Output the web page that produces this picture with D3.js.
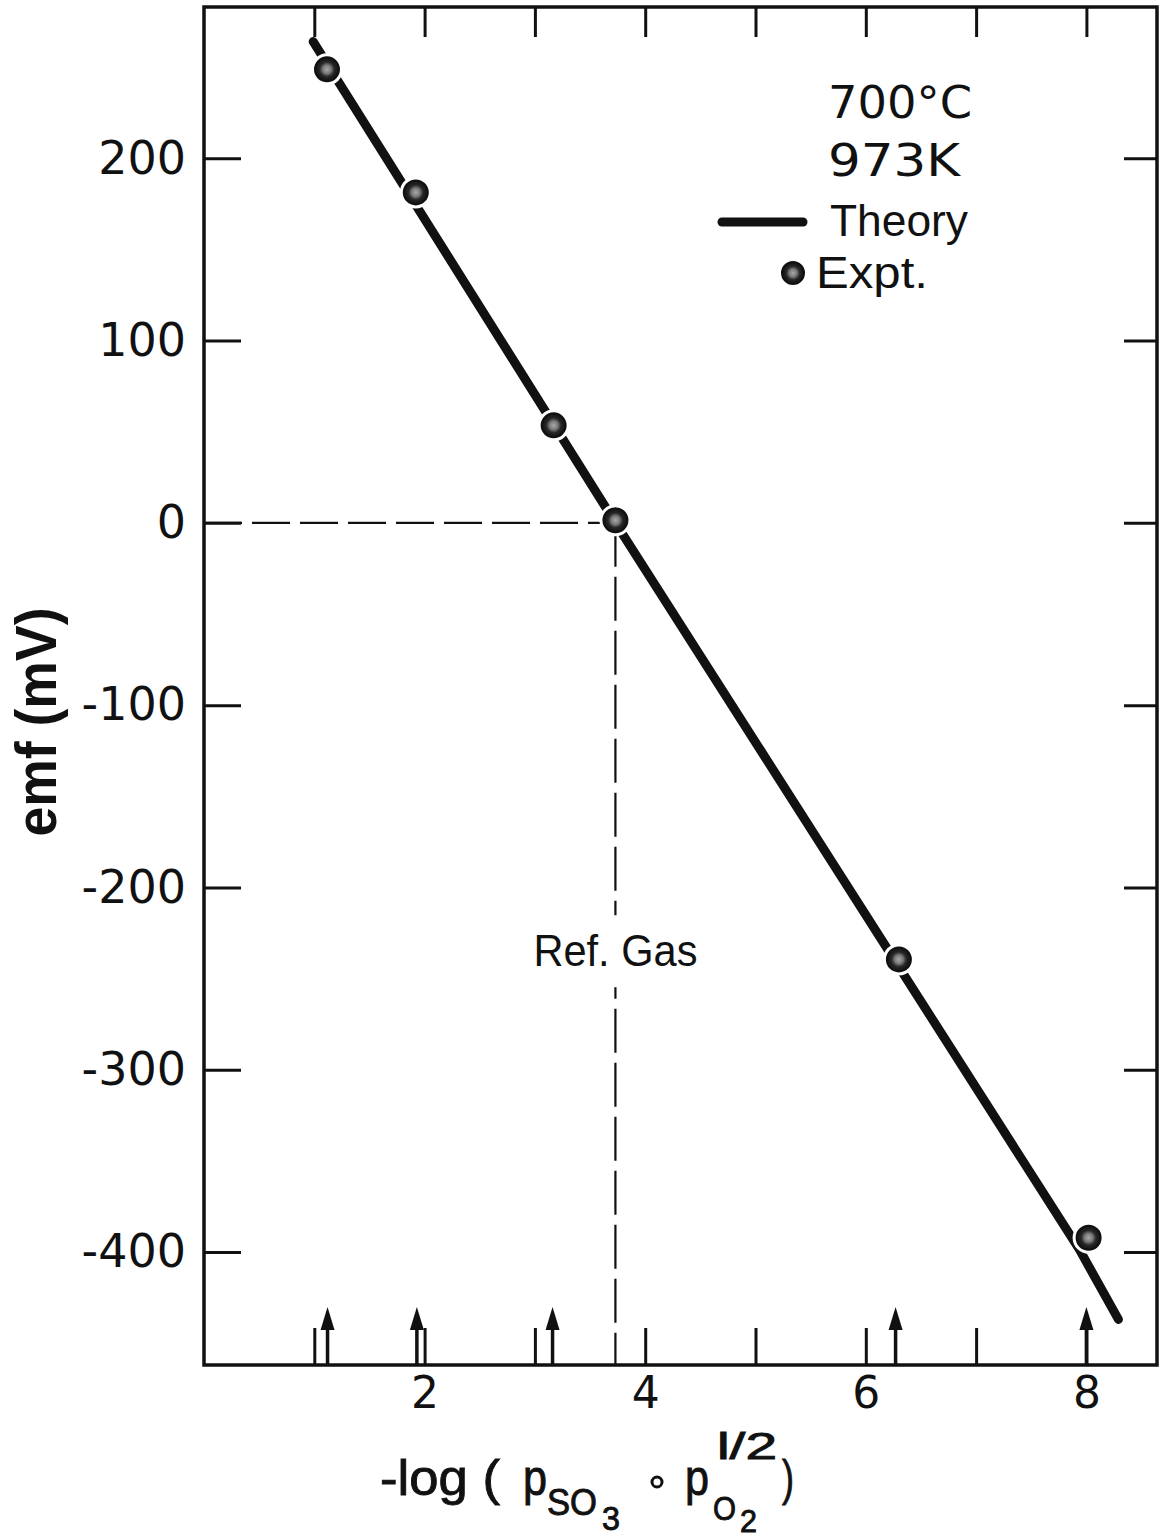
<!DOCTYPE html>
<html>
<head>
<meta charset="utf-8">
<script src="https://cdn.jsdelivr.net/npm/d3@7"></script>
<style>
  body { margin: 0; background: #fff; }
  text { fill: #111; }
</style>
</head>
<body>
<div id="chart"></div>
<script>
// experimental points (-log(pSO3 * pO2^1/2), emf mV)
const exptX = [1.115, 1.92, 3.17, 3.73, 6.3, 8.02];
const exptY = [248.8, 181.3, 53.5, 1.4, -239.5, -392.2];
// theory line
const theoryX = [0.99, 3.73, 7.94, 8.29];
const theoryY = [264, 0, -399, -437];
// arrows on the x axis marking the gas compositions
const arrowX = [1.12, 1.93, 3.16, 6.27, 8.0];
const refGasX = 3.73;
const yTicks = [200, 100, 0, -100, -200, -300, -400];
const xTicks = [1, 2, 3, 4, 5, 6, 7, 8];
const xLabels = [2, 4, 6, 8];

const W = 1163, H = 1540;
const numFont = "'DejaVu Sans', sans-serif";
const wordFont = "'Liberation Sans', Arial, sans-serif";

const svg = d3.select("#chart").append("svg")
  .attr("width", W).attr("height", H);

const x = d3.scaleLinear().domain([0, 8.64]).range([204, 1157]);
const y = d3.scaleLinear().domain([-462, 283]).range([1365, 7]);

const defs = svg.append("defs");
const grad = defs.append("radialGradient").attr("id", "dotfill");
grad.append("stop").attr("offset", "0%").attr("stop-color", "#a8a8a8");
grad.append("stop").attr("offset", "35%").attr("stop-color", "#7a7a7a");
grad.append("stop").attr("offset", "62%").attr("stop-color", "#262626");
grad.append("stop").attr("offset", "100%").attr("stop-color", "#111");

// axes with inward ticks
const styleAxis = (g) => {
  g.select(".domain").remove();
  g.selectAll("line").attr("stroke", "#111").attr("stroke-width", 3);
};
svg.append("g")
  .attr("transform", `translate(${x.range()[0]},0)`)
  .call(d3.axisLeft(y).tickValues(yTicks).tickSize(-37).tickPadding(18)
    .tickFormat((d) => String(d)))
  .call(styleAxis)
  .selectAll("text")
  .attr("font-family", numFont).attr("font-size", 46).attr("fill", "#111");

svg.append("g")
  .attr("transform", `translate(${x.range()[1]},0)`)
  .call(d3.axisRight(y).tickValues(yTicks).tickSize(-33).tickFormat(""))
  .call(styleAxis);

svg.append("g")
  .attr("transform", `translate(0,${y.range()[1]})`)
  .call(d3.axisTop(x).tickValues(xTicks).tickSize(-30).tickFormat(""))
  .call(styleAxis);

svg.append("g")
  .attr("transform", `translate(0,${y.range()[0]})`)
  .call(d3.axisBottom(x).tickValues(xTicks).tickSize(-37).tickPadding(12)
    .tickFormat((d) => (xLabels.includes(d) ? d : "")))
  .call(styleAxis)
  .selectAll("text")
  .attr("font-family", numFont).attr("font-size", 44).attr("fill", "#111");

// frame
svg.append("rect")
  .attr("x", x.range()[0]).attr("y", y.range()[1])
  .attr("width", x.range()[1] - x.range()[0])
  .attr("height", y.range()[0] - y.range()[1])
  .attr("fill", "none").attr("stroke", "#111").attr("stroke-width", 3.5);

// arrows
const arrows = svg.append("g");
arrowX.forEach((v) => {
  const ax = x(v), base = y.range()[0];
  arrows.append("line")
    .attr("x1", ax).attr("x2", ax).attr("y1", base).attr("y2", base - 40)
    .attr("stroke", "#111").attr("stroke-width", 3.5);
  arrows.append("path")
    .attr("d", `M${ax},${base - 58} L${ax - 7},${base - 35} L${ax + 7},${base - 35} Z`)
    .attr("fill", "#111");
});

// reference gas dashed lines
svg.append("line")
  .attr("x1", x(0)).attr("x2", x(refGasX))
  .attr("y1", y(0)).attr("y2", y(0))
  .attr("stroke", "#111").attr("stroke-width", 2.2)
  .attr("stroke-dasharray", "38,10");
svg.append("line")
  .attr("x1", x(refGasX)).attr("x2", x(refGasX))
  .attr("y1", y(0)).attr("y2", y.range()[0])
  .attr("stroke", "#111").attr("stroke-width", 2.2)
  .attr("stroke-dasharray", "44,10");

// label, with a white patch breaking the dashed line
const refLabelY = y(-235);
svg.append("rect")
  .attr("x", x(refGasX) - 85).attr("y", refLabelY - 36)
  .attr("width", 170).attr("height", 72).attr("fill", "#fff");
svg.append("text")
  .attr("x", x(refGasX)).attr("y", refLabelY + 15)
  .attr("text-anchor", "middle")
  .attr("font-family", wordFont).attr("font-size", 44)
  .attr("textLength", 164).attr("lengthAdjust", "spacingAndGlyphs")
  .text("Ref. Gas");

// theory line
const theory = theoryX.map((v, i) => [v, theoryY[i]]);
svg.append("path")
  .datum(theory)
  .attr("d", d3.line().x((d) => x(d[0])).y((d) => y(d[1])))
  .attr("fill", "none").attr("stroke", "#111")
  .attr("stroke-width", 9).attr("stroke-linecap", "round")
  .attr("stroke-linejoin", "round");

// experimental points, each with a white halo that breaks the line
const pts = exptX.map((v, i) => [v, exptY[i]]);
svg.append("g").selectAll("circle").data(pts).join("circle")
  .attr("cx", (d) => x(d[0])).attr("cy", (d) => y(d[1]))
  .attr("r", 16).attr("fill", "#fff");
svg.append("g").selectAll("circle").data(pts).join("circle")
  .attr("cx", (d) => x(d[0])).attr("cy", (d) => y(d[1]))
  .attr("r", 12).attr("fill", "url(#dotfill)")
  .attr("stroke", "#111").attr("stroke-width", 2);

// legend
const legend = svg.append("g");
legend.append("text").attr("x", 828).attr("y", 118)
  .attr("font-family", numFont).attr("font-size", 44)
  .attr("textLength", 144).attr("lengthAdjust", "spacingAndGlyphs")
  .text("700°C");
legend.append("text").attr("x", 828).attr("y", 176)
  .attr("font-family", numFont).attr("font-size", 44)
  .attr("textLength", 132).attr("lengthAdjust", "spacingAndGlyphs")
  .text("973K");
legend.append("line")
  .attr("x1", 722).attr("x2", 803).attr("y1", 222).attr("y2", 222)
  .attr("stroke", "#111").attr("stroke-width", 9).attr("stroke-linecap", "round");
legend.append("text").attr("x", 830).attr("y", 236)
  .attr("font-family", wordFont).attr("font-size", 45)
  .attr("textLength", 138).attr("lengthAdjust", "spacingAndGlyphs")
  .text("Theory");
legend.append("circle").attr("cx", 793).attr("cy", 273).attr("r", 11)
  .attr("fill", "url(#dotfill)").attr("stroke", "#111").attr("stroke-width", 2);
legend.append("text").attr("x", 816).attr("y", 288)
  .attr("font-family", wordFont).attr("font-size", 45)
  .attr("textLength", 112).attr("lengthAdjust", "spacingAndGlyphs")
  .text("Expt.");

// y axis title
svg.append("text")
  .attr("transform", "translate(56,722) rotate(-90)")
  .attr("text-anchor", "middle")
  .attr("font-family", wordFont).attr("font-size", 58).attr("font-weight", "bold")
  .attr("textLength", 229).attr("lengthAdjust", "spacingAndGlyphs")
  .text("emf (mV)");

// x axis title: -log (p_SO3 ∘ p_O2^1/2)
const tx = x(0) + 176, tb = 1495;
const title = svg.append("g").attr("font-family", wordFont)
  .attr("stroke", "#111").attr("stroke-width", 0.9);
const part = (str, dx, base, size, len) => {
  const t = title.append("text").attr("x", tx + dx).attr("y", base)
    .attr("font-size", size).text(str);
  if (len) t.attr("textLength", len).attr("lengthAdjust", "spacingAndGlyphs");
  return t;
};
part("-log (", 0, tb, 50, 120);
part("p", 143, tb, 50, 24);
part("SO", 167, tb + 20, 36, 50);
part("3", 222, tb + 35, 34, 18);
title.append("circle").attr("cx", tx + 277).attr("cy", tb - 13).attr("r", 5)
  .attr("fill", "none").attr("stroke", "#111").attr("stroke-width", 3);
part("p", 305, tb, 50, 24);
part("O", 333, tb + 25, 34, 23);
part("2", 360, tb + 37, 32, 17);
part("l/2", 337, tb - 36, 36, 60);
part(")", 402, tb, 50, 12);
</script>
</body>
</html>
